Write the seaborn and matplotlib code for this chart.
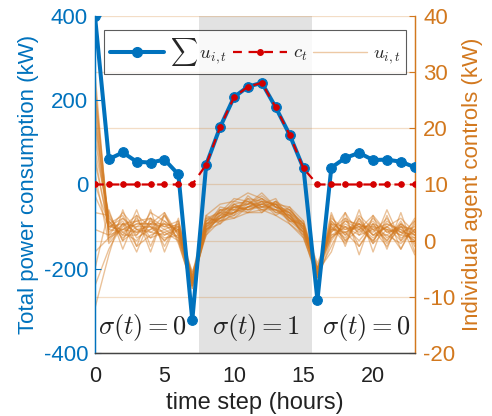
import numpy as np
import pandas as pd
import matplotlib
matplotlib.use("Agg")
import matplotlib.pyplot as plt
from matplotlib.lines import Line2D
import seaborn as sns

hours = list(range(24))
total_power = [400, 60, 76, 54, 52, 59, 24, -322, 47, 136, 207, 232, 241, 183, 118, 38,
               -274, 40, 63, 75, 58, 59, 54, 41]
target = [0, 0, 0, 0, 0, 0, 0, 0, 47, 136, 207, 232, 241, 183, 118, 38,
          0, 0, 0, 0, 0, 0, 0, 0]
agent_controls = [
    [28, 2.5, 4.0, 1.0, 3.5, 2.0, 0.5, -7.5, 3.5, 5.0, 6.5, 7.0, 5.5, 6.5, 4.0, 1.5, -5.0, 2.5, 0.5, 3.5, 1.0, 2.5, 0.0, 2.0],
    [25, 1.0, 2.0, 3.5, 1.5, 3.0, 2.5, -6.5, 2.0, 4.0, 5.0, 6.0, 7.5, 5.0, 5.5, 2.5, -6.0, 0.5, 3.0, 1.5, 3.5, 0.5, 2.5, -0.5],
    [22, 3.5, 0.5, 2.5, 4.0, 1.0, 2.0, -8.0, 4.0, 3.5, 6.0, 5.5, 6.5, 7.5, 3.5, 3.0, -5.5, 2.0, 4.0, 2.5, 0.0, 3.0, 1.5, 2.5],
    [30, 0.5, 3.0, 1.5, 2.0, 4.5, 1.0, -7.0, 1.5, 5.5, 4.5, 8.0, 6.0, 5.5, 5.0, 0.5, -6.5, 3.5, 1.0, 4.5, 2.0, -1.0, 3.0, 1.0],
    [18, 4.0, 1.5, 0.0, 3.0, 2.5, 3.5, -6.0, 3.0, 4.5, 7.0, 6.5, 8.0, 6.0, 4.5, 2.0, -4.5, 1.0, 2.5, 0.0, 3.0, 2.0, -1.5, 3.0],
    [15, 2.0, 5.0, 2.0, 0.5, 1.5, 0.0, -8.5, 2.5, 6.0, 5.5, 7.5, 7.0, 4.5, 6.0, 3.5, -5.0, 3.0, 0.0, 2.0, 4.5, 1.5, 2.0, 0.0],
    [12, -0.5, 2.5, 4.5, 2.5, 0.0, 2.0, -7.5, 4.5, 3.0, 6.5, 5.0, 5.0, 7.0, 3.0, 1.0, -7.0, 0.0, 3.5, 3.0, 1.5, 4.0, 0.5, 1.5],
    [26, 3.0, 1.0, 1.0, 5.0, 3.5, 1.5, -5.5, 1.0, 5.0, 4.0, 6.0, 6.5, 6.5, 5.0, 2.5, -4.0, 2.0, 1.5, -1.0, 2.5, 0.0, 3.5, -1.0],
    [20, 1.5, 3.5, -1.0, 1.0, 2.0, 3.0, -7.0, 3.5, 4.0, 5.0, 7.0, 5.5, 5.5, 4.0, 2.0, -6.0, 4.0, 2.0, 3.0, -0.5, 2.0, 1.0, 3.5],
    [8, 2.5, 2.0, 3.0, 3.0, 5.0, 1.0, -8.0, 2.0, 5.5, 6.0, 6.5, 8.5, 6.0, 3.5, 1.5, -5.5, 1.5, 5.0, 1.0, 2.0, 3.0, 2.0, 0.5],
    [5, 4.5, 0.0, 2.0, 1.5, 1.0, 2.5, -6.5, 3.0, 3.5, 4.5, 6.0, 6.0, 7.0, 5.5, 3.0, -6.5, 2.5, -0.5, 4.0, 1.0, 1.0, -0.5, 2.0],
    [24, 0.0, 3.0, 3.5, 4.0, 2.5, 2.0, -7.5, 2.5, 4.0, 5.5, 5.0, 7.0, 5.0, 4.5, 1.0, -5.0, 0.5, 2.5, 2.0, 3.0, -0.5, 2.5, 1.0],
    [10, 3.0, 4.5, 0.5, 2.0, 3.0, 0.5, -7.0, 4.0, 5.0, 7.5, 7.0, 6.0, 6.5, 4.0, 2.5, -6.0, 3.0, 1.5, 2.5, 0.5, 2.5, 4.0, 1.5],
    [-5, 5.5, -1.5, 4.5, -2.0, 5.0, -0.5, -8.0, 1.5, 4.5, 5.0, 6.5, 7.5, 6.0, 5.0, 2.0, -6.0, 5.0, -1.0, 5.5, -2.0, 4.5, -1.5, 3.5],
    [-12, -2.5, 5.5, -1.0, 5.5, -2.0, 4.0, -7.5, 3.0, 4.0, 6.0, 5.5, 6.5, 5.5, 3.5, 3.5, -5.5, -2.0, 5.0, -2.5, 4.5, -1.5, 5.0, -2.0],
    [16, 5.0, 0.0, 5.5, -1.0, 4.5, 0.0, -8.0, 2.0, 3.0, 5.0, 7.5, 5.0, 7.0, 4.5, 1.5, -6.5, 4.5, 0.0, 4.0, -0.5, 5.5, 0.0, 4.0],
    [2, 1.0, 4.0, 2.0, 2.5, 0.5, 1.0, -6.5, 3.5, 5.5, 5.5, 6.0, 7.0, 6.5, 6.0, 2.0, -5.0, 1.5, 3.5, 2.0, 0.0, 3.5, 1.5, 0.0],
    [27, 2.0, 1.5, 3.0, 3.0, 3.0, 2.0, -8.5, 2.5, 4.5, 6.0, 6.5, 6.5, 5.5, 4.5, 2.5, -6.5, 3.5, 1.0, 3.0, 2.0, 1.0, 3.0, 1.5],
    [-8, -1.5, 3.0, -2.0, 4.0, -1.0, 3.5, -7.0, 2.0, 4.0, 6.5, 5.5, 6.0, 6.0, 5.0, 3.0, -6.0, -1.0, 4.0, -1.0, 3.0, 0.0, 3.0, -2.5],
    [14, 2.5, 3.0, 2.5, 2.5, 1.5, 2.5, -7.5, 3.0, 5.0, 5.0, 6.0, 7.0, 6.5, 4.0, 1.5, -5.5, 2.0, 2.0, 2.5, 2.5, 2.0, 1.5, 1.0],
    [21, 3.5, 1.0, 4.0, 0.5, 3.5, 1.5, -6.0, 4.5, 6.5, 7.0, 8.5, 7.5, 6.0, 5.5, 3.0, -5.0, 3.0, 2.5, 1.0, 4.0, 1.5, 2.5, 2.0],
    [-2, 0.5, 2.0, 1.5, 3.0, 0.0, 3.0, -7.0, 1.0, 3.5, 4.0, 5.0, 5.5, 4.5, 3.0, 0.5, -6.0, 1.0, 1.5, 3.0, 1.0, 2.5, 1.0, 0.5],
]
left_ticks = [-400, -200, 0, 200, 400]
right_ticks = [-20, -10, 0, 10, 20, 30, 40]
x_ticks = [0, 5, 10, 15, 20]
regions = [(7.5, 15.6)]
region_labels = [r"$\sigma(t) = 0$", r"$\sigma(t) = 1$", r"$\sigma(t) = 0$"]
region_label_x = [3.4, 11.6, 19.5]

BLUE = "#0072BD"
ORANGE = "#D2781E"
RED = "#D40000"

sns.set_theme(style="white")
plt.rcParams["font.family"] = ["Liberation Sans", "DejaVu Sans"]
plt.rcParams["mathtext.fontset"] = "cm"
plt.rcParams["axes.unicode_minus"] = False

fig = plt.figure(figsize=(4.92, 4.16), dpi=100)
ax1 = fig.add_axes([0.193, 0.151, 0.650, 0.811])
ax2 = ax1.twinx()
ax1.set_zorder(ax2.get_zorder() + 1)
ax1.patch.set_visible(False)

for a, b in regions:
    ax2.axvspan(a, b, color="#e2e2e2", zorder=0, lw=0)

rows = []
for i, row in enumerate(agent_controls):
    for t, v in zip(hours, row):
        rows.append({"agent": i, "t": t, "u": v})
df_u = pd.DataFrame(rows)
sns.lineplot(data=df_u, x="t", y="u", units="agent", estimator=None, ax=ax2,
             color=ORANGE, alpha=0.45, lw=1.0, legend=False)

df_tot = pd.DataFrame({"t": hours, "total": total_power, "target": target})
sns.lineplot(data=df_tot, x="t", y="total", ax=ax1, color=BLUE, lw=2.9,
             marker="o", markersize=7, markeredgecolor=BLUE, legend=False, zorder=3)
sns.lineplot(data=df_tot, x="t", y="target", ax=ax1, color=RED, lw=1.6,
             marker="o", markersize=4, markeredgecolor=RED, linestyle=(0, (4, 3)),
             legend=False, zorder=4)

ax1.set_xlim(0, 23)
ax1.set_ylim(-400, 400)
ax2.set_ylim(-20, 40)
ax1.set_xticks(x_ticks)
ax1.set_yticks(left_ticks)
ax2.set_yticks(right_ticks)
ax2.set_xticks(x_ticks)

ax1.tick_params(axis="y", colors=BLUE, labelsize=16, length=4, direction="in", width=0.8, pad=5)
ax1.tick_params(axis="x", colors="#222222", labelsize=15.5, length=4, direction="in", width=0.8, pad=9)
ax2.tick_params(axis="y", colors=ORANGE, labelsize=16, length=4, direction="in", width=0.8, pad=6)

ax2.grid(axis="y", color=ORANGE, alpha=0.25, lw=0.9)
ax2.grid(axis="x", color="#c4c4c4", lw=0.8)
ax1.grid(False)

for ax in (ax1, ax2):
    for s in ax.spines.values():
        s.set_linewidth(0.9)
    ax.spines["left"].set_color(BLUE)
    ax.spines["right"].set_color(ORANGE)
    ax.spines["bottom"].set_color("#444444")
    ax.spines["top"].set_visible(False)

ax1.set_ylabel("Total power consumption (kW)", color=BLUE, fontsize=16, labelpad=3)
ax2.set_ylabel("Individual agent controls (kW)", color=ORANGE, fontsize=16, labelpad=5)
ax1.set_xlabel("time step (hours)", color="#222222", fontsize=17, labelpad=4)

for x, lab in zip(region_label_x, region_labels):
    ax1.text(x, -338, lab, fontsize=19, ha="center", va="center", color="#222222", zorder=6)

handles = [
    Line2D([], [], color=BLUE, lw=2.9, marker="o", markersize=7),
    Line2D([], [], color=RED, lw=1.6, marker="o", markersize=4, linestyle=(0, (4, 3))),
    Line2D([], [], color=ORANGE, lw=1.0, alpha=0.4),
]
labels = [r"$\sum\, u_{i,t}$", r"$c_t$", r"$u_{i,t}$"]
leg = ax1.legend(handles, labels, loc="upper center", bbox_to_anchor=(0.5, 0.968), ncol=3,
                 fontsize=13.5, handlelength=2.9, columnspacing=0.3, handletextpad=0.3,
                 frameon=True, fancybox=False, borderpad=0.3, borderaxespad=0.2)
leg.get_frame().set_edgecolor("#333333")
leg.get_frame().set_linewidth(0.8)
leg.set_zorder(10)

fig.savefig("out.png", dpi=100)
